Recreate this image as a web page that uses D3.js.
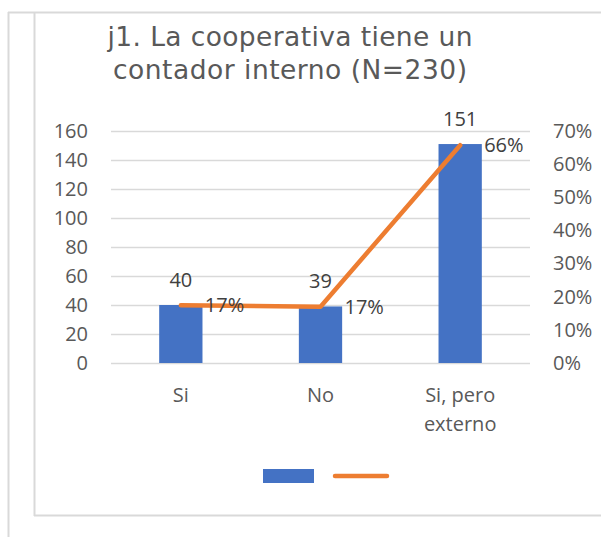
<!DOCTYPE html>
<html>
<head>
<meta charset="utf-8">
<script src="https://cdn.jsdelivr.net/npm/d3@7"></script>
<style>
  body { margin: 0; background: #fff; }
  svg text { font-family: "Open Sans", sans-serif; fill: #595959; }
</style>
</head>
<body>
<div id="chart"></div>
<script>
// Data
const categories = ["Si", "No", "Si, pero externo"];
const counts = [40, 39, 151];
const shares = [0.174, 0.170, 0.657];
const leftTicks = [0, 20, 40, 60, 80, 100, 120, 140, 160];
const rightTicks = [0, 0.1, 0.2, 0.3, 0.4, 0.5, 0.6, 0.7];
const titleLines = ["j1. La cooperativa tiene un", "contador interno (N=230)"];

const W = 601, H = 537;
const plot = { left: 111, right: 530, top: 131, bottom: 363 };
const labelFont = "20px";

const svg = d3.select("#chart")
  .append("svg")
  .attr("width", W)
  .attr("height", H);

svg.append("rect").attr("width", W).attr("height", H).attr("fill", "#fff");

// Frames
const frame = "#d9d9d9";
svg.append("line").attr("x1", 8.5).attr("x2", 8.5).attr("y1", 12).attr("y2", H)
  .attr("stroke", frame).attr("stroke-width", 2);
svg.append("line").attr("x1", 8).attr("x2", W).attr("y1", 12.5).attr("y2", 12.5)
  .attr("stroke", frame).attr("stroke-width", 2);
svg.append("line").attr("x1", 34.5).attr("x2", 34.5).attr("y1", 12).attr("y2", 516)
  .attr("stroke", frame).attr("stroke-width", 2);
svg.append("line").attr("x1", 34).attr("x2", W).attr("y1", 515.5).attr("y2", 515.5)
  .attr("stroke", frame).attr("stroke-width", 2);

// Title
const titleWidths = [365, 354];
svg.append("g")
  .selectAll("text")
  .data(titleLines)
  .enter()
  .append("text")
  .attr("text-anchor", "middle")
  .attr("x", 290)
  .attr("y", (d, i) => 46 + i * 33)
  .attr("textLength", (d, i) => titleWidths[i])
  .attr("lengthAdjust", "spacing")
  .style("font-family", "'DejaVu Sans', Verdana, sans-serif")
  .style("font-size", "26.5px")
  .text(d => d);

// Scales
const x = d3.scaleBand()
  .domain(categories)
  .range([plot.left, plot.right])
  .paddingInner(0.69)
  .paddingOuter(0.345);

const y = d3.scaleLinear().domain([0, 160]).range([plot.bottom, plot.top]);
const y2 = d3.scaleLinear().domain([0, 0.7]).range([plot.bottom, plot.top]);

// Gridlines
svg.append("g")
  .selectAll("line")
  .data(leftTicks)
  .enter()
  .append("line")
  .attr("x1", plot.left)
  .attr("x2", plot.right)
  .attr("y1", d => Math.round(y(d)) + 0.5)
  .attr("y2", d => Math.round(y(d)) + 0.5)
  .attr("stroke", "#d9d9d9")
  .attr("stroke-width", 1.5);

// Left axis
const leftAxis = svg.append("g")
  .attr("transform", `translate(${plot.left - 23},0)`)
  .call(d3.axisLeft(y).tickValues(leftTicks).tickSize(0).tickPadding(0));
leftAxis.select(".domain").remove();
leftAxis.selectAll("text")
  .style("font-size", labelFont)
  .style("font-family", "'Open Sans', sans-serif")
  .attr("fill", "#595959");

// Right axis
const rightAxis = svg.append("g")
  .attr("transform", `translate(${plot.right + 23},0)`)
  .call(d3.axisRight(y2).tickValues(rightTicks).tickSize(0).tickPadding(0).tickFormat(d3.format(".0%")));
rightAxis.select(".domain").remove();
rightAxis.selectAll("text")
  .style("font-size", labelFont)
  .style("font-family", "'Open Sans', sans-serif")
  .attr("fill", "#595959");

// Category labels (wrapped)
const catLines = { "Si": ["Si"], "No": ["No"], "Si, pero externo": ["Si, pero", "externo"] };
svg.append("g")
  .selectAll("text")
  .data(categories)
  .enter()
  .append("text")
  .attr("text-anchor", "middle")
  .style("font-size", labelFont)
  .each(function (d) {
    d3.select(this).selectAll("tspan")
      .data(catLines[d])
      .enter()
      .append("tspan")
      .attr("x", x(d) + x.bandwidth() / 2)
      .attr("y", (t, i) => 402 + i * 29)
      .text(t => t);
  });

// Bars
svg.append("g")
  .selectAll("rect")
  .data(categories)
  .enter()
  .append("rect")
  .attr("x", d => x(d))
  .attr("y", (d, i) => y(counts[i]))
  .attr("width", x.bandwidth())
  .attr("height", (d, i) => plot.bottom - y(counts[i]))
  .attr("fill", "#4472c4");

// Bar labels
svg.append("g")
  .selectAll("text")
  .data(categories)
  .enter()
  .append("text")
  .attr("text-anchor", "middle")
  .attr("x", d => x(d) + x.bandwidth() / 2)
  .attr("y", (d, i) => y(counts[i]) - 18)
  .style("font-size", labelFont)
  .style("fill", "#404040")
  .text((d, i) => counts[i]);

// Line
const line = d3.line()
  .x(d => x(d.cat) + x.bandwidth() / 2)
  .y(d => y2(d.v));
const lineData = categories.map((c, i) => ({ cat: c, v: shares[i] }));

svg.append("path")
  .datum(lineData)
  .attr("d", line)
  .attr("fill", "none")
  .attr("stroke", "#ed7d31")
  .attr("stroke-width", 4.5)
  .attr("stroke-linecap", "round")
  .attr("stroke-linejoin", "round");

// Line labels
svg.append("g")
  .selectAll("text")
  .data(lineData)
  .enter()
  .append("text")
  .attr("x", d => x(d.cat) + x.bandwidth() / 2 + 24)
  .attr("y", d => y2(d.v) + 7)
  .style("font-size", labelFont)
  .style("fill", "#404040")
  .text(d => d3.format(".0%")(d.v));

// Legend
svg.append("rect")
  .attr("x", 263).attr("y", 469)
  .attr("width", 51).attr("height", 14)
  .attr("fill", "#4472c4");
svg.append("line")
  .attr("x1", 335).attr("x2", 387)
  .attr("y1", 476).attr("y2", 476)
  .attr("stroke", "#ed7d31")
  .attr("stroke-width", 4.5)
  .attr("stroke-linecap", "round");
</script>
</body>
</html>
